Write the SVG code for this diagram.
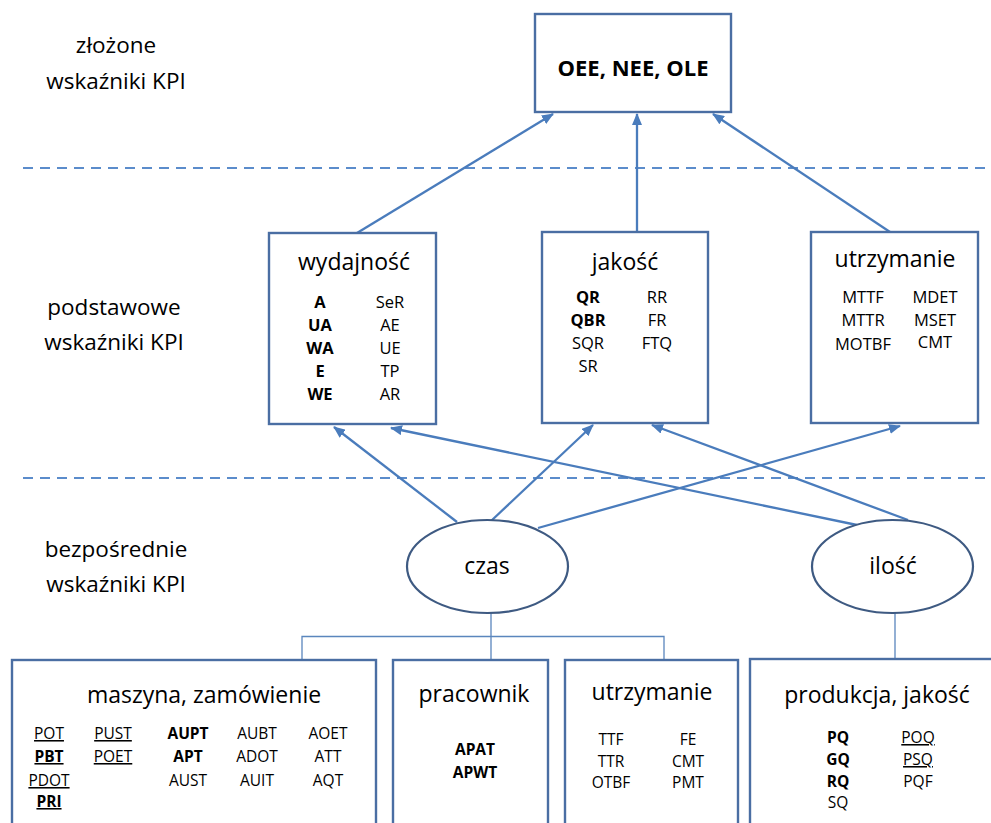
<svg xmlns="http://www.w3.org/2000/svg" width="991" height="823" viewBox="0 0 991 823">
  <style>
    text { font-family: "Open Sans", "Liberation Sans", sans-serif; fill: #000; }
    .lbl { font-size: 22.5px; text-anchor: middle; }
    .ttl { font-size: 23px; text-anchor: middle; }
    .it { font-size: 16.5px; text-anchor: middle; }
    .bi { font-size: 15.5px; text-anchor: middle; }
    .b { font-weight: bold; }
    .u { text-decoration: underline; }
    .box { fill: #fff; stroke: #4a6ea3; stroke-width: 2.4; }
    .ell { fill: #fff; stroke: #3e5a82; stroke-width: 2.2; }
    .dash { stroke: #5b8ccb; stroke-width: 2; stroke-dasharray: 10 7; fill: none; }
    .arr { stroke: #4a7cbc; stroke-width: 2.3; fill: none; marker-end: url(#head); }
    .thin { stroke: #5a86bd; stroke-width: 1.3; fill: none; }
  </style>
  <defs>
    <marker id="head" viewBox="0 0 12 10" refX="11" refY="5" markerWidth="12" markerHeight="10" markerUnits="userSpaceOnUse" orient="auto">
      <path d="M0,0 L12,5 L0,10 Z" fill="#4a7cbc"/>
    </marker>
  </defs>
  <rect width="991" height="823" fill="#fff"/>

  <!-- level separators -->
  <g id="separators">
    <line class="dash" x1="23" y1="168" x2="991" y2="168"/>
    <line class="dash" x1="23" y1="478" x2="991" y2="478"/>
  </g>

  <!-- level labels -->
  <g id="levels">
    <text class="lbl" x="116" y="53">złożone</text>
    <text class="lbl" x="116" y="89">wskaźniki KPI</text>
    <text class="lbl" x="114" y="315">podstawowe</text>
    <text class="lbl" x="114" y="350">wskaźniki KPI</text>
    <text class="lbl" x="116" y="557">bezpośrednie</text>
    <text class="lbl" x="116" y="592">wskaźniki KPI</text>
  </g>

  <!-- connectors -->
  <g id="connectors">
    <line class="arr" x1="357" y1="233" x2="553" y2="114"/>
    <line class="arr" x1="637" y1="232" x2="637" y2="114"/>
    <line class="arr" x1="890" y1="232" x2="713" y2="114"/>
    <line class="arr" x1="457" y1="522" x2="334" y2="427"/>
    <line class="arr" x1="491" y1="521" x2="593" y2="425"/>
    <line class="arr" x1="538" y1="528" x2="900" y2="426"/>
    <line class="arr" x1="857" y1="525" x2="391" y2="428"/>
    <line class="arr" x1="908" y1="520" x2="652" y2="425"/>
    <path class="thin" d="M491,613 V660 M302,660 V636.5 H664 V660 M895,613 V660"/>
  </g>

  <!-- composite KPI -->
  <g id="oee">
    <rect class="box" x="535" y="14" width="196" height="98"/>
    <text class="b" x="633" y="76" font-size="22" text-anchor="middle">OEE, NEE, OLE</text>
  </g>

  <!-- basic KPI -->
  <g id="wydajnosc">
    <rect class="box" x="269" y="233" width="167" height="191"/>
    <text class="ttl" x="354" y="270">wydajność</text>
    <text class="it b" x="320" y="308">A</text>
    <text class="it b" x="320" y="331">UA</text>
    <text class="it b" x="320" y="354">WA</text>
    <text class="it b" x="320" y="377">E</text>
    <text class="it b" x="320" y="400">WE</text>
    <text class="it" x="390" y="308">SeR</text>
    <text class="it" x="390" y="331">AE</text>
    <text class="it" x="390" y="354">UE</text>
    <text class="it" x="390" y="377">TP</text>
    <text class="it" x="390" y="400">AR</text>
  </g>

  <g id="jakosc">
    <rect class="box" x="542" y="232" width="166" height="191"/>
    <text class="ttl" x="625" y="270">jakość</text>
    <text class="it b" x="588" y="303">QR</text>
    <text class="it b" x="588" y="326">QBR</text>
    <text class="it" x="588" y="349">SQR</text>
    <text class="it" x="588" y="372">SR</text>
    <text class="it" x="657" y="303">RR</text>
    <text class="it" x="657" y="326">FR</text>
    <text class="it" x="657" y="349">FTQ</text>
  </g>

  <g id="utrzymanie">
    <rect class="box" x="811" y="232" width="167" height="191"/>
    <text class="ttl" x="895" y="267">utrzymanie</text>
    <text class="it" x="863" y="303">MTTF</text>
    <text class="it" x="863" y="326">MTTR</text>
    <text class="it" x="863" y="350">MOTBF</text>
    <text class="it" x="935" y="303">MDET</text>
    <text class="it" x="935" y="326">MSET</text>
    <text class="it" x="935" y="348">CMT</text>
  </g>

  <!-- direct KPI -->
  <g id="czas">
    <ellipse class="ell" cx="487.5" cy="566.5" rx="80.5" ry="46.5"/>
    <text class="ttl" x="487" y="574" font-size="22">czas</text>
  </g>

  <g id="ilosc">
    <ellipse class="ell" cx="892.5" cy="566.5" rx="80.5" ry="46.5"/>
    <text class="ttl" x="893" y="574" font-size="22">ilość</text>
  </g>

  <!-- data sources -->
  <g id="maszyna">
    <rect class="box" x="12" y="660" width="364" height="180"/>
    <text class="ttl" x="204" y="703">maszyna, zamówienie</text>
    <text class="bi u" x="49" y="739">POT</text>
    <text class="bi b u" x="49" y="762">PBT</text>
    <text class="bi u" x="49" y="786">PDOT</text>
    <text class="bi b u" x="49" y="807">PRI</text>
    <text class="bi u" x="113" y="739">PUST</text>
    <text class="bi u" x="113" y="762">POET</text>
    <text class="bi b" x="188" y="739">AUPT</text>
    <text class="bi b" x="188" y="762">APT</text>
    <text class="bi" x="188" y="786">AUST</text>
    <text class="bi" x="257" y="739">AUBT</text>
    <text class="bi" x="257" y="762">ADOT</text>
    <text class="bi" x="257" y="786">AUIT</text>
    <text class="bi" x="328" y="739">AOET</text>
    <text class="bi" x="328" y="762">ATT</text>
    <text class="bi" x="328" y="786">AQT</text>
  </g>

  <g id="pracownik">
    <rect class="box" x="393" y="660" width="155" height="180"/>
    <text class="ttl" x="474" y="702">pracownik</text>
    <text class="bi b" x="475" y="755">APAT</text>
    <text class="bi b" x="475" y="778">APWT</text>
  </g>

  <g id="utrzymanie-zrodla">
    <rect class="box" x="565" y="660" width="173" height="180"/>
    <text class="ttl" x="652" y="700">utrzymanie</text>
    <text class="bi" x="611" y="745">TTF</text>
    <text class="bi" x="611" y="767">TTR</text>
    <text class="bi" x="611" y="788">OTBF</text>
    <text class="bi" x="688" y="745">FE</text>
    <text class="bi" x="688" y="767">CMT</text>
    <text class="bi" x="688" y="788">PMT</text>
  </g>

  <g id="produkcja">
    <rect class="box" x="750" y="659" width="260" height="180"/>
    <text class="ttl" x="877" y="703">produkcja, jakość</text>
    <text class="bi b" x="838" y="743">PQ</text>
    <text class="bi b" x="838" y="765">GQ</text>
    <text class="bi b" x="838" y="787">RQ</text>
    <text class="bi" x="838" y="808">SQ</text>
    <text class="bi u" x="918" y="743">POQ</text>
    <text class="bi u" x="918" y="765">PSQ</text>
    <text class="bi" x="918" y="787">PQF</text>
  </g>
</svg>
